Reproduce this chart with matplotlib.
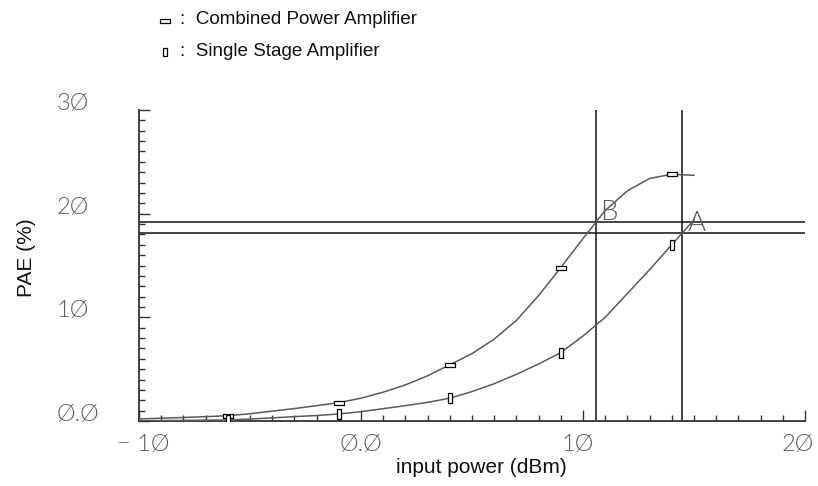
import matplotlib
matplotlib.use("Agg")
import matplotlib.pyplot as plt
from matplotlib.path import Path
from matplotlib.lines import Line2D
from matplotlib.ticker import MultipleLocator
from matplotlib.transforms import ScaledTranslation
from matplotlib.font_manager import FontProperties

# Input sweep (dBm) and PAE (%) of the two amplifiers
input_power = list(range(-10, 16))
pae_combined = [0.20, 0.27, 0.34, 0.42, 0.51, 0.70, 0.95, 1.20, 1.48, 1.77,
                2.20, 2.78, 3.48, 4.36, 5.42, 6.50, 7.90, 9.70, 12.1, 14.8,
                17.6, 20.3, 22.2, 23.4, 23.8, 23.7]
pae_single = [0.02, 0.04, 0.06, 0.08, 0.10, 0.19, 0.30, 0.42, 0.53, 0.68,
              0.90, 1.19, 1.48, 1.80, 2.20, 2.84, 3.60, 4.50, 5.50, 6.60,
              8.20, 10.0, 12.3, 14.6, 17.0, 19.4]
marker_idx = [4, 9, 14, 19, 24]

# Cursor lines: A on the single-stage curve, B on the combined curve
cursor_x = [14.45, 10.57]
cursor_y = [18.1, 19.2]
cursor_names = ["A", "B"]
cursor_label_xy = [(14.72, 18.3), (10.75, 19.35)]

x_ticks = [-10, 0, 10, 20]
x_ticklabels = ["\u2212 1\u00d8", "\u00d8.\u00d8", "1\u00d8", "2\u00d8"]
y_ticks = [0, 10, 20, 30]
y_ticklabels = ["\u00d8.\u00d8", "1\u00d8", "2\u00d8", "3\u00d8"]

series_names = ["Combined Power Amplifier", "Single Stage Amplifier"]

W, H = 818, 486
fig = plt.figure(figsize=(W / 100, H / 100), dpi=100)
ax = fig.add_axes([139 / W, (H - 421) / H, 666 / W, 311 / H])

hbox = Path([(-1, -0.36), (1, -0.36), (1, 0.36), (-1, 0.36), (-1, -0.36)],
            [Path.MOVETO, Path.LINETO, Path.LINETO, Path.LINETO, Path.CLOSEPOLY])
vbox = Path([(-0.4, -1), (0.4, -1), (0.4, 1), (-0.4, 1), (-0.4, -1)],
            [Path.MOVETO, Path.LINETO, Path.LINETO, Path.LINETO, Path.CLOSEPOLY])

curve_color = "#5a5a5a"
ax.plot(input_power, pae_combined, color=curve_color, lw=1.1,
        marker=hbox, markevery=marker_idx, ms=7.6, mfc="white",
        mec="black", mew=0.9, zorder=3)
ax.plot(input_power, pae_single, color=curve_color, lw=1.1,
        marker=vbox, markevery=marker_idx, ms=7.2, mfc="white",
        mec="black", mew=0.9, zorder=3)

for xv in cursor_x:
    ax.axvline(xv, color="#111111", lw=1.1, zorder=2)
for yv in cursor_y:
    ax.axhline(yv, color="#111111", lw=1.1, zorder=2)

thin_font = ["Lato", "DejaVu Sans"]
for name, (lx, ly) in zip(cursor_names, cursor_label_xy):
    ax.text(lx, ly, name, ha="left", va="baseline", zorder=4,
            family=thin_font, fontweight=300, fontsize=20,
            color="#5a5a5a")

ax.set_xlim(-10, 20)
ax.set_ylim(0, 30)
for s in ("top", "right"):
    ax.spines[s].set_visible(False)
for s in ("left", "bottom"):
    ax.spines[s].set_color("#333333")
    ax.spines[s].set_linewidth(1.3)

ax.set_xticks(x_ticks)
ax.set_xticklabels(x_ticklabels)
ax.set_yticks(y_ticks)
ax.set_yticklabels(y_ticklabels)
ax.xaxis.set_minor_locator(MultipleLocator(1))
ax.yaxis.set_minor_locator(MultipleLocator(1))
ax.tick_params(which="major", direction="in", length=8, width=1.0,
               color="#333333")
ax.tick_params(which="minor", direction="in", length=4, width=1.0,
               color="#333333")
ax.tick_params(axis="x", which="major", pad=9)
ax.tick_params(axis="y", which="major", pad=59)

tick_props = FontProperties(family=thin_font, weight=300, size=17)
x_label_shift_px = [4, 0, -5, -7]
for lab, dx in zip(ax.get_xticklabels(), x_label_shift_px):
    lab.set_fontproperties(tick_props)
    lab.set_color("#5f5f5f")
    lab.set_transform(lab.get_transform() +
                      ScaledTranslation(dx / 100, 0, fig.dpi_scale_trans))
for lab in ax.get_yticklabels():
    lab.set_fontproperties(tick_props)
    lab.set_color("#5f5f5f")
    lab.set_horizontalalignment("left")
    lab.set_verticalalignment("baseline")

label_font = dict(family=["Liberation Sans", "DejaVu Sans"], fontsize=15,
                  color="#111111")
ax.set_xlabel("input power (dBm)", va="center", **label_font)
ax.xaxis.set_label_coords((481 - 139) / 666, (421 - 467) / 311)
ax.set_ylabel("PAE (%)", va="center", **label_font)
ax.yaxis.set_label_coords((27 - 139) / 666, (421 - 258) / 311)

# Key at the top of the figure
key_font = dict(family=["Liberation Sans", "DejaVu Sans"], fontsize=13.6,
                color="#111111", va="center", ha="left")
key_rows = [(19.5, hbox, 7.6), (51.0, vbox, 6.0)]
for name, (ky, mk, msz) in zip(series_names, key_rows):
    fig.add_artist(Line2D([165 / W], [1 - (ky + 1.5) / H],
                          transform=fig.transFigure, marker=mk, ms=msz,
                          mfc="white", mec="black", mew=0.9, ls="none"))
    fig.text(180 / W, 1 - ky / H, ":  " + name, **key_font)

fig.savefig("out.png", dpi=100)
